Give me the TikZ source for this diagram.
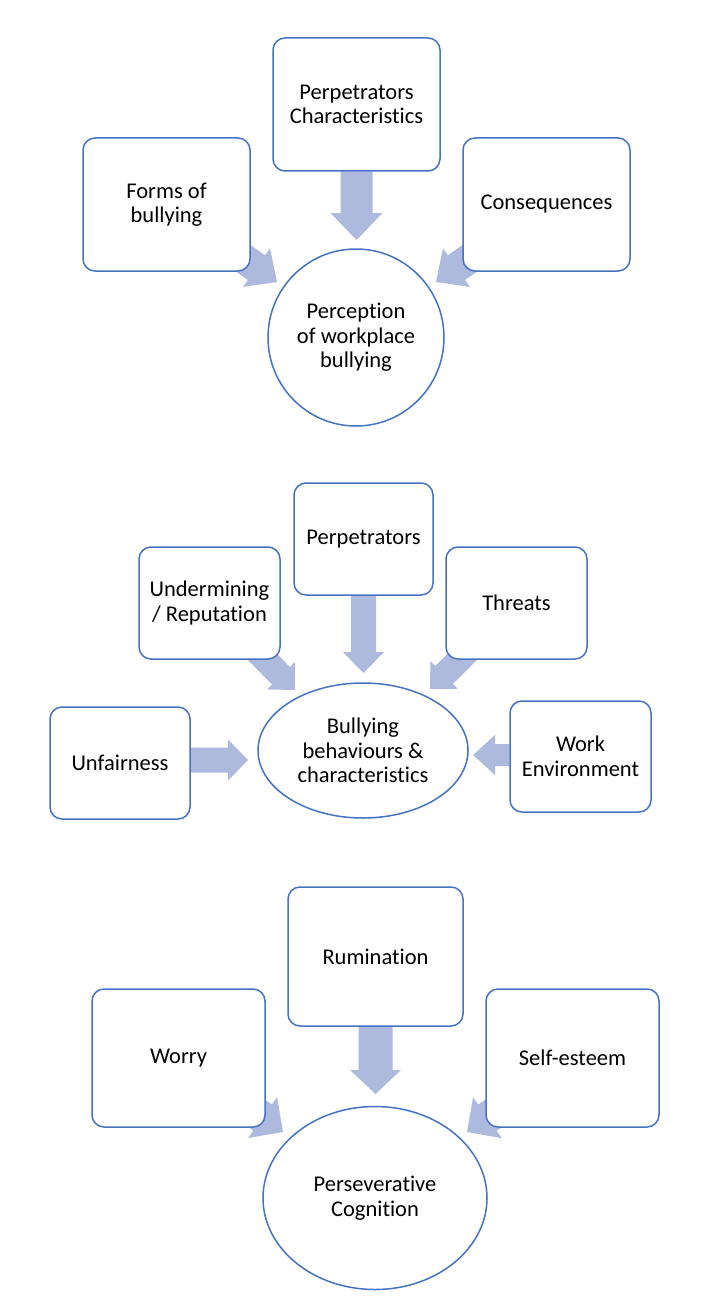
\documentclass[tikz,border=0pt]{standalone}
\usepackage{fontspec}
\setmainfont[Ligatures=NoCommon]{Carlito}
\usetikzlibrary{calc,shapes.geometric}
\definecolor{boxc}{HTML}{4472C4}
\definecolor{arrc}{HTML}{AEBADD}
\pgfdeclarelayer{background}
\pgfsetlayers{background,main}
% #1 tail, #2 tip, #3 half shaft width, #4 half head width, #5 head length
\newcommand{\blockarr}[5]{%
  \coordinate (hb) at ($(#2)!#5!(#1)$);
  \fill[arrc] ($(#1)!#3!90:(#2)$) -- ($(hb)!#3!90:(#2)$) -- ($(hb)!#4!90:(#2)$)
    -- (#2) -- ($(hb)!#4!-90:(#2)$) -- ($(hb)!#3!-90:(#2)$) -- ($(#1)!#3!-90:(#2)$) -- cycle;
}
\tikzset{
  box/.style={draw=boxc, line width=1.5pt, fill=white, rounded corners=12pt,
    align=center, inner sep=2pt, font=\fontsize{22.5}{24.5}\selectfont},
  oval/.style={ellipse, draw=boxc, line width=1.5pt, fill=white, align=center,
    inner sep=0pt, font=\fontsize{22.5}{24.5}\selectfont}
}
\begin{document}
\begin{tikzpicture}[x=1pt,y=-1pt]
\useasboundingbox (0,0) rectangle (712,1300);
% ---------- section 1 ----------
\node[box, minimum width=167pt, minimum height=133pt] (b11) at (166.5,204.5) {Forms of\\bullying};
\node[box, minimum width=167pt, minimum height=133pt] (b12) at (356.5,104.5) {Perpetrators\\Characteristics};
\node[box, minimum width=167pt, minimum height=133pt] (b13) at (546.5,204.5) {Consequences};
\node[oval, minimum width=176pt, minimum height=177pt] (c1) at (356,337.5) {Perception\\of workplace\\bullying};
\coordinate (t11) at (277,282);
\coordinate (t12) at (356.5,240);
\coordinate (t13) at (436,282);
% ---------- section 2 ----------
\node[box, minimum width=139pt, minimum height=112pt] (b21) at (363.5,539) {Perpetrators};
\node[box, minimum width=141pt, minimum height=112pt] (b22) at (209.5,603) {Undermining\\/ Reputation};
\node[box, minimum width=141pt, minimum height=112pt] (b23) at (516.5,603) {Threats};
\node[box, minimum width=140pt, minimum height=112pt] (b24) at (120,763) {Unfairness};
\node[box, minimum width=141pt, minimum height=111pt] (b25) at (580.5,756.5) {Work\\Environment};
\node[oval, minimum width=210pt, minimum height=135pt] (c2) at (363,750.5) {Bullying\\behaviours \&\\characteristics};
\coordinate (t21) at (363.5,673);
\coordinate (t22) at (295,690);
\coordinate (t23) at (430,689);
\coordinate (t24) at (248,760);
\coordinate (t25) at (473,755);
% ---------- section 3 ----------
\node[box, minimum width=175pt, minimum height=139pt] (b31) at (375.5,956.5) {Rumination};
\node[box, minimum width=173pt, minimum height=138pt] (b32) at (178.5,1058) {Worry};
\node[box, minimum width=173pt, minimum height=138pt] (b33) at (572.5,1058) {Self-esteem};
\node[oval, minimum width=224pt, minimum height=183pt] (c3) at (375,1198) {Perseverative\\Cognition};
\coordinate (t31) at (375.5,1094);
\coordinate (t32) at (283,1132);
\coordinate (t33) at (467,1132);
% ---------- arrows (behind) ----------
\begin{pgfonlayer}{background}
\fill[white] (0,0) rectangle (712,1300);
\blockarr{b12.south}{t12}{16pt}{26pt}{27pt}
\blockarr{b11.center}{t11}{15pt}{23.5pt}{25pt}
\blockarr{b13.center}{t13}{15pt}{23.5pt}{25pt}
\blockarr{b21.south}{t21}{12.5pt}{20.5pt}{21pt}
\blockarr{b22.center}{t22}{12.5pt}{19.5pt}{20pt}
\blockarr{b23.center}{t23}{12.5pt}{19.5pt}{20pt}
\blockarr{b24.east |- t24}{t24}{12.5pt}{20.5pt}{20pt}
\blockarr{b25.west |- t25}{t25}{11pt}{20pt}{22pt}
\blockarr{b31.south}{t31}{17pt}{25.5pt}{24pt}
\blockarr{b32.center}{t32}{16pt}{25pt}{25pt}
\blockarr{b33.center}{t33}{16pt}{25pt}{25pt}
\end{pgfonlayer}
\end{tikzpicture}
\end{document}
